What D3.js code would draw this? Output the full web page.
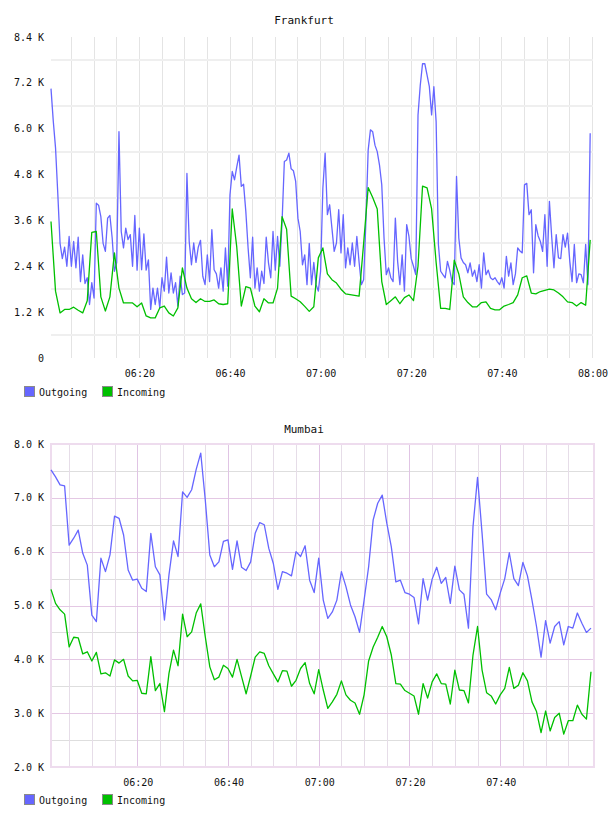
<!DOCTYPE html>
<html><head><meta charset="utf-8">
<script src="https://cdn.jsdelivr.net/npm/d3@7"></script>
<style>
body{margin:0;background:#fff;}
svg{display:block;}
text{font-family:"DejaVu Sans Mono",monospace;fill:#111;}
</style>
</head><body>
<svg id="c" width="608" height="816"></svg>
<script>
// ---------------- DATA ----------------
const seriesNames = ["Outgoing", "Incoming"];

// Frankfurt: values in K; Outgoing sampled every 30 s, Incoming every 60 s
const frankfurtStart = "06:00:36";
const frankfurtEnd = "08:00:00";
const frankfurtOutgoing = [
  7.05,6.2,5.5,4.3,3.0,2.6,2.9,2.4,3.18,2.4,
  3.05,2.36,3.16,2.0,2.7,1.95,2.1,1.4,1.97,1.57,
  4.05,4.0,3.7,3.0,2.79,3.66,3.73,3.14,2.27,2.5,
  5.92,3.31,2.88,3.4,3.1,3.23,2.4,3.73,2.3,3.4,
  2.31,3.25,2.3,2.57,1.27,1.83,1.4,1.83,1.31,2.1,
  1.75,2.64,1.7,2.23,1.7,1.97,1.36,2.14,1.66,1.7,
  4.83,3.05,2.44,3.01,2.5,2.9,3.08,2.14,1.92,2.7,
  2.0,3.36,2.31,2.2,1.83,2.36,1.75,2.88,1.88,4.27,
  4.88,4.66,5.0,5.31,4.49,4.55,3.83,2.88,2.1,3.16,
  1.83,2.36,1.75,2.27,1.95,3.16,2.49,2.1,3.31,2.3,
  3.18,2.4,3.57,5.14,5.18,5.36,4.95,4.9,4.62,3.66,
  3.31,2.44,2.7,1.92,3.0,1.92,2.5,1.92,1.75,2.27,
  4.44,5.36,3.75,4.01,3.4,2.79,3.01,3.88,2.75,3.75,
  2.36,2.88,2.44,3.01,2.4,3.18,2.5,1.92,2.05,3.57,
  5.44,5.97,5.92,5.57,5.4,5.05,4.53,3.14,2.18,2.36,
  2.1,2.0,3.66,2.53,1.92,2.7,1.75,3.49,3.18,2.6,
  2.4,2.18,6.36,7.14,7.7,7.7,7.4,7.1,6.36,7.1,
  6.18,2.97,2.27,2.18,2.1,2.53,2.3,2.0,1.92,4.75,
  3.14,2.62,2.5,2.44,2.23,2.49,2.14,2.3,2.0,2.44,
  1.83,2.75,2.18,2.3,2.1,2.05,2.1,2.0,1.92,2.1,
  1.83,2.66,2.14,2.49,1.92,2.2,2.88,2.8,2.75,4.53,
  4.57,3.75,3.88,2.23,3.49,3.2,3.05,2.79,3.75,2.4,
  4.1,3.18,2.36,3.23,2.62,2.6,3.23,2.9,3.27,2.53,
  2.0,2.97,1.97,2.2,2.18,1.97,2.97,1.92,5.88
];
const frankfurtIncoming = [
  3.57,1.75,1.18,1.27,1.27,1.33,1.25,1.18,1.5,3.29,
  3.31,1.6,1.23,1.6,2.75,1.83,1.44,1.44,1.44,1.34,
  1.44,1.10,1.05,1.05,1.31,1.36,1.18,1.10,1.31,2.36,
  1.83,1.55,1.45,1.55,1.48,1.48,1.52,1.42,1.40,1.42,
  3.9,2.9,1.36,1.87,1.83,1.36,1.21,1.55,1.44,1.44,
  1.83,3.7,3.37,1.62,1.55,1.47,1.35,1.22,1.34,2.62,
  2.88,2.2,2.05,1.96,1.8,1.68,1.66,1.64,1.62,3.0,
  4.46,4.2,3.9,2.0,1.4,1.5,1.6,1.42,1.58,1.65,
  1.5,2.4,4.5,4.45,3.9,2.5,1.3,1.3,1.27,2.56,
  2.2,1.6,1.45,1.34,1.34,1.45,1.47,1.3,1.26,1.26,
  1.36,1.4,1.45,1.65,2.1,2.15,1.7,1.68,1.74,1.77,
  1.8,1.78,1.7,1.6,1.47,1.45,1.36,1.45,1.38,3.09
];

// Mumbai: values in K, both series every 60 s
const mumbaiStart = "06:01:00";
const mumbaiEnd = "08:00:40";
const mumbaiOutgoing = [
  7.52,7.39,7.24,7.22,6.12,6.25,6.40,5.97,5.75,4.82,
  4.70,5.88,5.63,5.94,6.66,6.62,6.31,5.66,5.47,5.49,
  5.32,5.26,6.34,5.72,5.57,4.73,5.57,6.2,5.91,7.11,
  7.01,7.15,7.53,7.83,6.96,5.94,5.72,5.81,6.19,6.22,
  5.67,6.2,5.71,5.65,5.81,6.34,6.54,6.5,6.06,5.78,
  5.3,5.63,5.6,5.55,6.0,5.91,6.11,5.47,5.24,5.88,
  5.1,4.76,4.88,5.1,5.63,5.35,5.01,4.79,4.5,5.1,
  5.72,6.59,6.9,7.05,6.53,6.09,5.44,5.47,5.24,5.21,
  5.15,4.66,5.5,5.1,5.49,5.71,5.41,5.52,5.04,5.73,
  5.29,5.21,4.58,6.46,7.38,6.34,5.21,5.11,4.92,5.23,
  5.5,5.98,5.5,5.37,5.8,5.55,5.1,4.61,4.04,4.72,
  4.3,4.61,4.7,4.27,4.61,4.58,4.86,4.67,4.5,4.58
];
const mumbaiIncoming = [
  5.3,5.04,4.92,4.84,4.23,4.41,4.4,4.1,4.14,3.97,
  4.13,3.73,3.75,3.69,3.99,3.93,4.0,3.69,3.6,3.61,
  3.37,3.36,4.05,3.42,3.55,3.03,3.74,4.17,3.88,4.84,
  4.42,4.51,4.86,5.03,4.42,3.86,3.62,3.67,3.89,3.83,
  3.67,4.0,3.68,3.36,3.69,4.04,4.14,4.11,3.88,3.73,
  3.58,3.79,3.78,3.5,3.61,3.83,3.94,3.55,3.36,3.81,
  3.43,3.09,3.21,3.35,3.6,3.34,3.24,3.19,2.98,3.34,
  3.97,4.23,4.41,4.61,4.42,4.08,3.55,3.54,3.42,3.37,
  3.32,2.98,3.55,3.28,3.58,3.73,3.55,3.54,3.17,3.8,
  3.43,3.42,3.19,4.08,4.61,3.8,3.38,3.32,3.17,3.34,
  3.46,3.85,3.46,3.52,3.75,3.6,3.21,3.03,2.64,3.04,
  2.67,2.92,3.0,2.61,2.86,2.86,3.15,2.98,2.89,3.77
];

const frankfurtYTicks = [0,1.2,2.4,3.6,4.8,6.0,7.2,8.4];
const frankfurtYGrid = [0.6,1.8,3.0,4.2,5.4,6.6,7.8];
const mumbaiYTicks = [2,3,4,5,6,7,8];
const mumbaiYMinor = [2.5,3.5,4.5,5.5,6.5,7.5];
const frankfurtTimeLabels = ["06:20","06:40","07:00","07:20","07:40","08:00"];
const mumbaiTimeLabels = ["06:20","06:40","07:00","07:20","07:40"];

// ---------------- DRAWING ----------------
const COL = ["#6666ff", "#00c000"];
const parseT = d3.timeParse("%H:%M:%S");
const parseHM = d3.timeParse("%H:%M");
const svg = d3.select("#c");

function timesFrom(start, n, stepSec){
  const t0 = parseT(start);
  return d3.range(n).map(i => new Date(t0.getTime() + i*stepSec*1000));
}
const fmtK = d => d === 0 ? "0" : d.toFixed(1) + " K";

function drawLegend(g, y){
  seriesNames.forEach((name, i) => {
    const x0 = [24, 102][i];
    g.append("rect").attr("x", x0 + 0.5).attr("y", y - 5.5).attr("width", 10).attr("height", 10)
      .attr("fill", COL[i]).attr("stroke", "#8a8a8a").attr("stroke-width", 1);
    g.append("text").attr("x", x0 + 15).attr("y", y + 3.5).attr("font-size", 10).text(name);
  });
}

// ---- Frankfurt ----
(function(){
  const g = svg.append("g");
  const x = d3.scaleTime().domain([parseT(frankfurtStart), parseT(frankfurtEnd)]).range([51, 592]);
  const y = d3.scaleLinear().domain([0, 8.4]).range([358, 37]);
  const fiveMin = d3.timeMinute.every(5).range(parseHM("06:05"), new Date(parseHM("08:00").getTime()+1000));

  g.append("text").attr("x", 304).attr("y", 24).attr("text-anchor", "middle").attr("font-size", 11).text("Frankfurt");

  g.selectAll(".vg").data(fiveMin).join("line")
    .attr("x1", d => Math.round(x(d)) + 0.5).attr("x2", d => Math.round(x(d)) + 0.5)
    .attr("y1", 37).attr("y2", 358).attr("stroke", "#e4e4e4").attr("stroke-width", 1);
  g.selectAll(".hg").data(frankfurtYGrid).join("line")
    .attr("x1", 51).attr("x2", 593)
    .attr("y1", d => Math.round(y(d))).attr("y2", d => Math.round(y(d)))
    .attr("stroke", "#efefef").attr("stroke-width", 2);

  g.selectAll(".yl").data(frankfurtYTicks).join("text")
    .attr("x", 44).attr("y", d => y(d) + 3.5).attr("text-anchor", "end").attr("font-size", 10).text(fmtK);
  g.selectAll(".xl").data(frankfurtTimeLabels).join("text")
    .attr("x", d => x(parseHM(d)) + 1).attr("y", 377).attr("text-anchor", "middle").attr("font-size", 10).text(d => d);

  const out = timesFrom(frankfurtStart, frankfurtOutgoing.length, 30).map((t,i)=>[t, frankfurtOutgoing[i]]);
  const inc = timesFrom(frankfurtStart, frankfurtIncoming.length, 60).map((t,i)=>[t, frankfurtIncoming[i]]);
  const line = d3.line().x(d => x(d[0])).y(d => y(d[1]));
  g.append("path").datum(out).attr("d", line).attr("fill", "none").attr("stroke", COL[0]).attr("stroke-width", 1.3).attr("stroke-linejoin","round");
  g.append("path").datum(inc).attr("d", line).attr("fill", "none").attr("stroke", COL[1]).attr("stroke-width", 1.3).attr("stroke-linejoin","round");

  drawLegend(g, 392);
})();

// ---- Mumbai ----
(function(){
  const g = svg.append("g");
  const x = d3.scaleTime().domain([parseT(mumbaiStart), parseT(mumbaiEnd)]).range([51, 594]);
  const y = d3.scaleLinear().domain([2, 8]).range([767, 444]);
  const all5 = d3.timeMinute.every(5).range(parseHM("06:05"), parseHM("08:00"));
  const major = all5.filter(d => d.getMinutes() % 20 === 0);
  const minor = all5.filter(d => d.getMinutes() % 20 !== 0);

  g.append("text").attr("x", 304).attr("y", 433).attr("text-anchor", "middle").attr("font-size", 11).text("Mumbai");

  g.selectAll(".hm").data(mumbaiYMinor).join("line")
    .attr("x1", 51).attr("x2", 594)
    .attr("y1", d => Math.round(y(d)) + 0.5).attr("y2", d => Math.round(y(d)) + 0.5)
    .attr("stroke", "#dedede").attr("stroke-width", 1);
  g.selectAll(".vm").data(minor).join("line")
    .attr("x1", d => Math.round(x(d)) + 0.5).attr("x2", d => Math.round(x(d)) + 0.5)
    .attr("y1", 444).attr("y2", 767).attr("stroke", "#e6dde8").attr("stroke-width", 1);
  g.selectAll(".hM").data(mumbaiYTicks).join("line")
    .attr("x1", 51).attr("x2", 594)
    .attr("y1", d => Math.round(y(d)) + 0.5).attr("y2", d => Math.round(y(d)) + 0.5)
    .attr("stroke", "#e4c8e4").attr("stroke-width", 1);
  g.selectAll(".vM").data(major).join("line")
    .attr("x1", d => Math.round(x(d)) + 0.5).attr("x2", d => Math.round(x(d)) + 0.5)
    .attr("y1", 444).attr("y2", 767).attr("stroke", "#e0c4e4").attr("stroke-width", 1);
  g.append("rect").attr("x", 51).attr("y", 444).attr("width", 543).attr("height", 323)
    .attr("fill", "none").attr("stroke", "#eedcee").attr("stroke-width", 2);

  g.selectAll(".yl").data(mumbaiYTicks).join("text")
    .attr("x", 44).attr("y", d => y(d) + 3.5).attr("text-anchor", "end").attr("font-size", 10).text(fmtK);
  g.selectAll(".xl").data(mumbaiTimeLabels).join("text")
    .attr("x", d => x(parseHM(d)) + 1).attr("y", 786).attr("text-anchor", "middle").attr("font-size", 10).text(d => d);

  const out = timesFrom(mumbaiStart, mumbaiOutgoing.length, 60).map((t,i)=>[t, mumbaiOutgoing[i]]);
  const inc = timesFrom(mumbaiStart, mumbaiIncoming.length, 60).map((t,i)=>[t, mumbaiIncoming[i]]);
  const line = d3.line().x(d => x(d[0])).y(d => y(d[1]));
  g.append("path").datum(out).attr("d", line).attr("fill", "none").attr("stroke", COL[0]).attr("stroke-width", 1.3).attr("stroke-linejoin","round");
  g.append("path").datum(inc).attr("d", line).attr("fill", "none").attr("stroke", COL[1]).attr("stroke-width", 1.3).attr("stroke-linejoin","round");

  drawLegend(g, 800);
})();
</script>
</body></html>
